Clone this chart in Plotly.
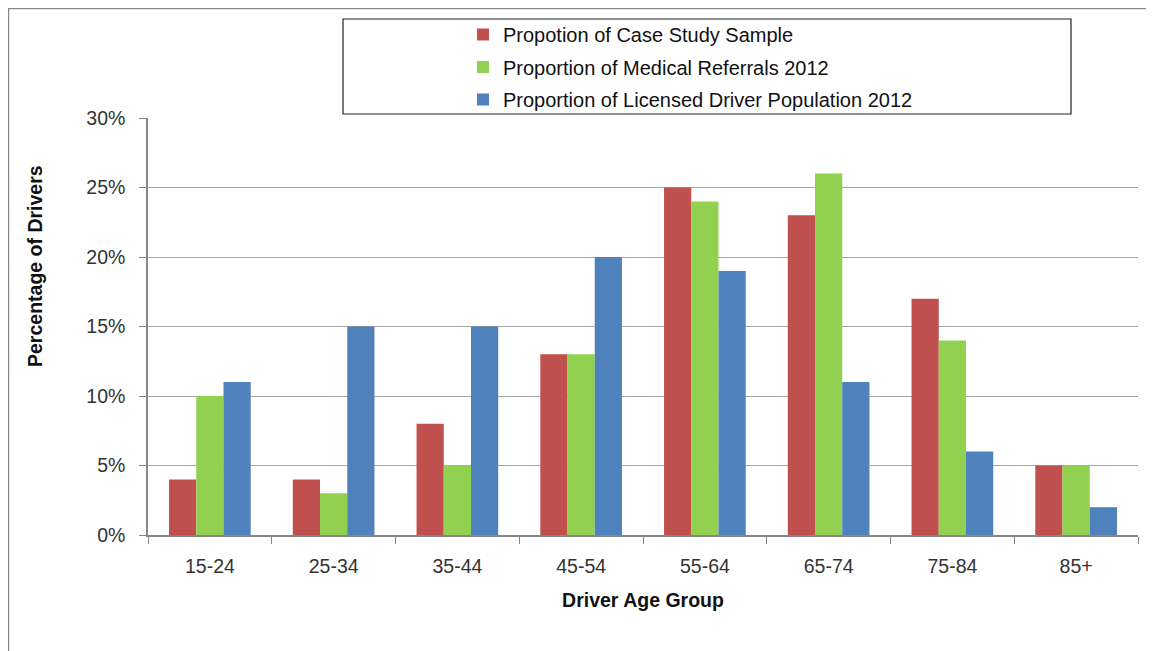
import plotly.graph_objects as go

categories = ["15-24", "25-34", "35-44", "45-54", "55-64", "65-74", "75-84", "85+"]
case_study = [4, 4, 8, 13, 25, 23, 17, 5]
medical_referrals = [10, 3, 5, 13, 24, 26, 14, 5]
licensed_drivers = [11, 15, 15, 20, 19, 11, 6, 2]
series_names = [
    "Propotion of Case Study Sample",
    "Proportion of Medical Referrals 2012",
    "Proportion of Licensed Driver Population 2012",
]
colors = ["#C0504D", "#92D050", "#4F81BD"]
y_ticks = [0, 5, 10, 15, 20, 25, 30]
y_labels = ["0%", "5%", "10%", "15%", "20%", "25%", "30%"]

FONT = "Liberation Sans, Arial, sans-serif"

# page has an 8px body margin: work in figure coords = page coords - 8
W, H = 1146, 643
L, R, T, B = 140, 16, 110, 116
PW = W - L - R
PH = H - T - B

def px(xp):  # page x -> paper x
    return (xp - 8 - L) / PW

def py(yp):  # page y -> paper y
    return (H - B - (yp - 8)) / PH

fig = go.Figure()
for i, (name, vals, col) in enumerate(zip(series_names, [case_study, medical_referrals, licensed_drivers], colors)):
    fig.add_trace(go.Bar(
        x=categories, y=vals, name=name, marker=dict(color=col, line=dict(width=0)),
        legendgroup=f"g{i}",
    ))

fig.update_layout(
    width=W, height=H,
    margin=dict(l=L, r=R, t=T, b=B, autoexpand=False),
    paper_bgcolor="white", plot_bgcolor="white",
    barmode="group", bargap=0.34, bargroupgap=0,
    font=dict(family=FONT, size=19, color="#333333"),
    showlegend=True,
    legend=dict(
        x=px(463), xanchor="left", y=py(15), yanchor="top",
        font=dict(size=20, family=FONT, color="#111111"),
        bgcolor="rgba(0,0,0,0)", borderwidth=0,
        traceorder="grouped", tracegroupgap=3.5,
        itemwidth=30,
    ),
    xaxis=dict(
        showline=True, linecolor="#868686", linewidth=1.5,
        ticks="outside", tickson="boundaries", ticklen=7, tickcolor="#868686",
        tickfont=dict(size=19.5, family=FONT, color="#333333"),
        ticklabelstandoff=13, tickangle=0,
        title=dict(text="<b>Driver Age Group</b>", font=dict(size=19.5, family=FONT, color="#111111"), standoff=17),
        showgrid=False,
    ),
    yaxis=dict(
        range=[0, 30], tickvals=y_ticks, ticktext=y_labels,
        showline=True, linecolor="#868686", linewidth=1.5,
        ticks="outside", ticklen=7, tickcolor="#868686",
        ticklabelstandoff=10,
        showgrid=True, gridcolor="#A6A6A6", gridwidth=1.2,
        tickfont=dict(size=19.5, family=FONT, color="#333333"),
        zeroline=False,
    ),
    annotations=[dict(
        text="<b>Percentage of Drivers</b>", textangle=-90,
        xref="paper", yref="paper", x=px(35), y=py(266),
        xanchor="center", yanchor="middle", showarrow=False,
        font=dict(size=19.5, family=FONT, color="#111111"),
    )],
)

# legend box
fig.add_shape(type="rect", xref="paper", yref="paper",
              x0=px(343), x1=px(1071), y0=py(114), y1=py(19),
              line=dict(color="#222222", width=1.2), fillcolor="rgba(0,0,0,0)", layer="below")
# outer frame (left and top edges)
fig.add_shape(type="line", xref="paper", yref="paper",
              x0=px(8), x1=px(8), y0=py(700), y1=py(8),
              line=dict(color="#868686", width=2.5))
fig.add_shape(type="line", xref="paper", yref="paper",
              x0=px(8), x1=px(1200), y0=py(8), y1=py(8),
              line=dict(color="#868686", width=2.5))

fig.write_html("out.html")
